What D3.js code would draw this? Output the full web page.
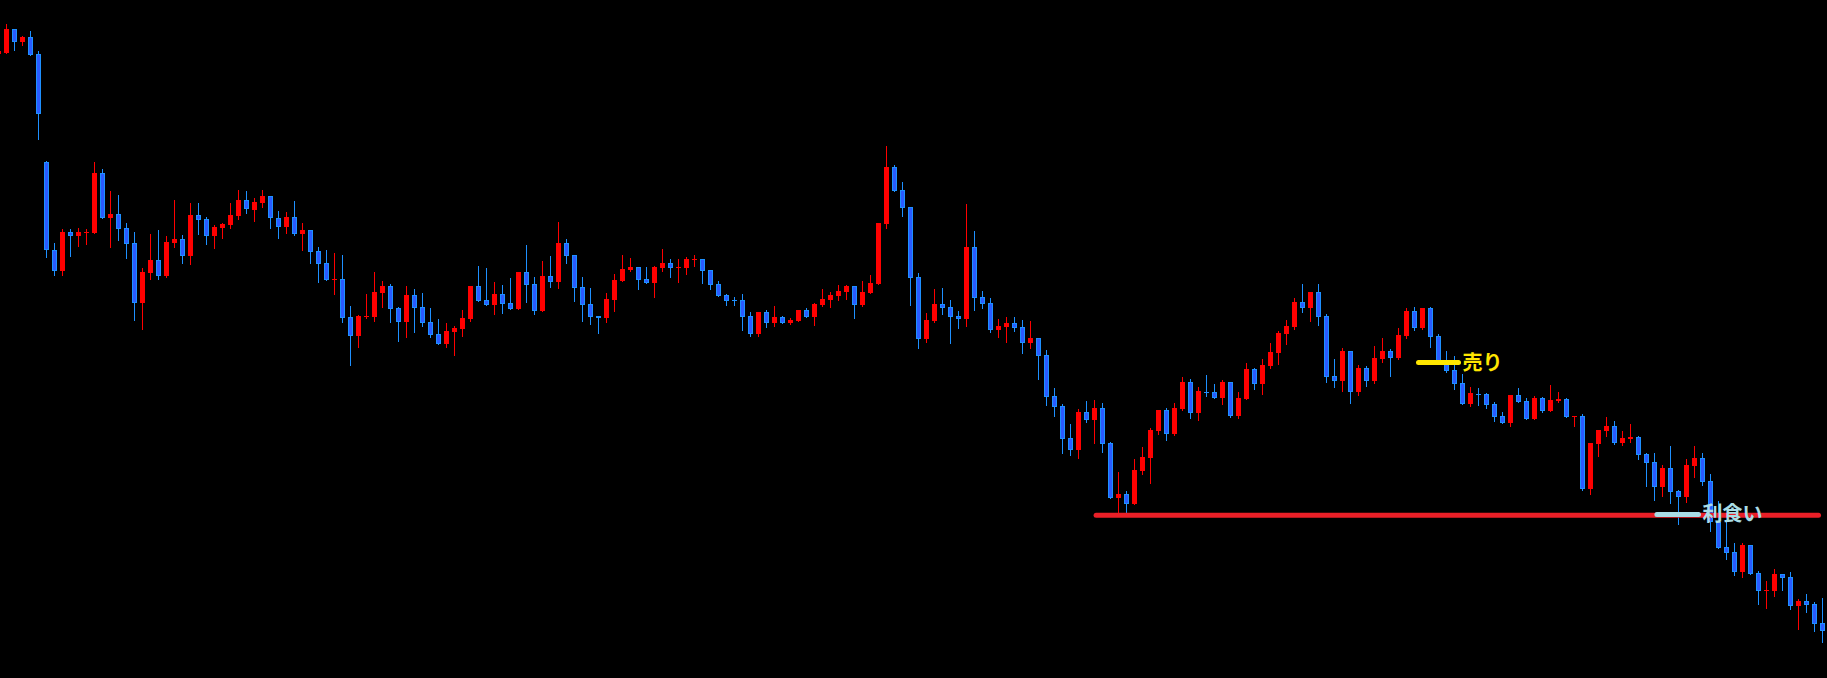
<!DOCTYPE html>
<html>
<head>
<meta charset="utf-8">
<script src="https://cdn.jsdelivr.net/npm/d3@7/dist/d3.min.js"></script>
<style>
  body { margin: 0; background: #000; overflow: hidden; }
</style>
</head>
<body>
<div id="chartContent"></div>
<script>
//Price data (one value per bar, oldest first)
var openP = [
  946.5, 947.3, 971, 958.3, 963, 946, 837.7, 750, 729.3, 767.7,
  764.3, 767.7, 767.3, 827, 782.3, 786, 772, 757, 697.3, 727.3,
  740, 724.3, 757.3, 761, 744.3, 785, 781, 764.3, 772.3, 775.3,
  784.3, 800, 790.3, 797.3, 804, 781.7, 773.3, 783, 766.3, 770,
  749, 737, 721, 721, 683, 664.3, 683.7, 683.3, 707.3, 714,
  692, 678.3, 705, 693, 678, 666, 656.3, 668.3, 671, 681,
  714, 700, 695, 706, 697, 691, 728, 716, 689, 724,
  718, 757, 745, 713, 696, 684, 682.3, 700, 719, 730,
  733, 721, 717, 732, 737, 732.7, 732, 741.3, 740.7, 730,
  716, 705, 700, 700, 684, 666.3, 688, 677.3, 683, 677,
  679, 690, 683.3, 695, 700, 704, 708, 714, 695, 707,
  716, 776.3, 833, 810, 793, 723, 661, 679, 696, 693,
  684, 681.3, 753, 703, 697, 670.3, 673, 677, 673, 657,
  662, 645, 604, 594, 562, 550.3, 588, 580.3, 592, 557,
  502.3, 506, 496.3, 529, 542.3, 569, 590, 566, 591, 618,
  587.3, 608, 608, 602.3, 618, 584.3, 601, 631, 616.3, 634.3,
  647, 666.3, 673, 698, 692.3, 708, 684, 624, 619, 649,
  608.3, 632, 619, 641, 649, 642, 664, 689, 672, 692,
  664, 639, 630, 617, 596.3, 606, 606, 596, 584, 577.3,
  605, 599, 581.3, 602, 589.3, 599, 601, 584, 584, 511.3,
  556.3, 569.3, 574, 557, 561, 563, 546, 538, 513.3, 532,
  509, 503.3, 534.3, 542, 519, 478, 453, 448, 428.3, 455,
  427, 410, 409.3, 426, 423, 394.3, 399, 396, 377
];
var highP = [
  950, 976, 971, 964.3, 969, 949, 839, 757, 771, 771,
  772, 771, 838, 831, 809, 805, 777, 768, 732.3, 766.3,
  770.3, 764.3, 800.3, 765, 797, 797, 783, 775, 777, 797,
  810, 809, 802, 810, 804, 789, 788, 799, 777, 770,
  753, 750, 747, 745, 694.3, 685, 706.3, 728.3, 719.3, 716,
  693, 714.3, 711, 707, 692, 681, 677, 674.3, 690, 714,
  734, 732, 718, 715, 722, 728, 755, 723, 739, 744,
  778, 761, 745, 723, 712, 684, 707, 726, 745, 742,
  733, 733, 734, 751, 741, 741, 743, 744.7, 740.7, 730,
  719, 706, 703, 706, 688, 688, 690, 694, 684, 682,
  690, 692, 697, 711, 708, 715, 715, 714, 719, 725,
  777, 854, 835, 818, 793, 727, 687, 711, 712, 700,
  689, 796, 769, 709, 702, 681, 683, 683, 680, 679,
  662, 650, 612, 596, 576, 591, 599, 600, 597, 558,
  528, 509, 541, 553, 572, 590, 592, 597, 623, 621,
  613, 625, 616, 620, 618, 608, 637, 632, 641, 657,
  669, 680, 702, 716, 708, 716, 686, 641, 652, 649,
  635, 634, 654, 662, 651, 672, 692, 693, 692, 693,
  666, 649, 644, 626, 613, 612, 607, 598, 588, 605,
  612, 602, 604, 603, 615, 608, 602, 584, 586, 557,
  570, 583, 579, 569, 576, 564, 547, 547, 535, 554,
  510, 541, 554, 547, 526, 499, 478, 457, 457, 455,
  429, 419, 431, 426, 428, 401, 406, 398, 402
];
var lowP = [
  946, 947, 950, 955, 945.3, 861.3, 743.3, 725.3, 725.3, 744.3,
  754.3, 756.3, 767.3, 782.3, 753.3, 760.3, 742.3, 680.3, 671, 721.3,
  721.3, 723.3, 753.3, 737.3, 736.3, 766.3, 756.3, 752.3, 762.3, 772.3,
  781.3, 787.3, 779.3, 793.3, 772.3, 762.3, 767.3, 765, 750.3, 737.3,
  718.3, 720.3, 706.3, 678.3, 635.3, 653.3, 682.3, 679.3, 693.3, 678.3,
  659.3, 663.3, 668.3, 674.3, 663.3, 656.3, 653.3, 645, 664.3, 679.3,
  699.3, 695.3, 686.3, 687.3, 691.3, 691, 698.3, 686.3, 689, 713,
  712, 737.3, 699.3, 679.3, 676.3, 667.3, 678.3, 689.3, 719, 729,
  711.3, 717.3, 703.3, 729, 723, 718, 726, 734, 717.3, 711.3,
  704.3, 695.3, 695.3, 670, 664.3, 664.3, 673.3, 674.3, 677.3, 676.3,
  679, 683.3, 675, 694, 693, 700, 701, 682, 694, 707,
  716, 772.3, 809.3, 784, 695.3, 652.3, 658.3, 678, 686.3, 657,
  672, 674.3, 690.3, 692.3, 668.3, 663, 658, 669, 647, 652,
  621, 595.3, 584.3, 547.3, 545.3, 542.3, 578.3, 557.3, 548.3, 502.3,
  488, 488.3, 496.3, 526, 517, 566, 560, 565, 590, 582.3,
  580, 604, 602.3, 596.3, 583.3, 582.3, 601, 611.3, 606.3, 632.3,
  636.3, 656.3, 671, 688, 679, 675, 618.3, 613.3, 609.3, 597.3,
  605.3, 614.3, 617.3, 638.3, 624, 641, 662, 670, 671, 653,
  636, 628, 611, 596.3, 594.3, 595.3, 592.3, 579.3, 577.3, 574.3,
  598.3, 581.3, 581.3, 588.3, 589.3, 598, 583.3, 574.3, 510.3, 506.3,
  544.3, 564.3, 556.3, 555, 558, 541, 514, 500, 504, 497.3,
  476.3, 498.3, 523, 515.3, 469.3, 452.3, 441, 425.3, 423.3, 426.3,
  396.3, 392.3, 404.3, 410.3, 391.3, 371.3, 388.3, 369.3, 358.3
];
var closeP = [
  949, 971, 958.3, 963, 945.3, 886.3, 749.7, 729.3, 768, 764.3,
  768, 767.7, 827, 782.3, 786, 771.3, 756.3, 697.3, 728.3, 740,
  724.3, 758, 761, 744.3, 785, 780.3, 764.3, 773, 776, 785,
  800, 790.7, 798, 804, 781.7, 773.3, 783, 766.3, 770, 748.3,
  736.3, 720.3, 721, 682.3, 664.3, 684.3, 683.7, 708, 714, 691.3,
  678.3, 705, 692.3, 677.3, 665.3, 656.3, 669, 672, 682, 714,
  699.3, 695.3, 706, 696.3, 691.3, 728, 715.3, 689.3, 724, 718.3,
  757, 744.3, 712.3, 695.3, 683.3, 682.3, 701, 720, 731, 733,
  720.3, 717.3, 733, 737, 732, 732.7, 741, 741.3, 729.3, 715.3,
  704.3, 699.3, 699.8, 683.3, 666.3, 688, 677.3, 683, 677.3, 680,
  690, 683.3, 696, 701, 705, 709, 714, 695.3, 708, 717,
  777, 833, 809.3, 792.3, 722.3, 661.3, 680, 696, 692.3, 683.3,
  681.3, 753, 702.3, 696.3, 670.3, 674, 677, 672.3, 657.3, 662,
  644.3, 603.3, 593.3, 561.3, 550.3, 588, 580.3, 592, 556.3, 502.3,
  506, 496.3, 530, 543, 570, 590, 566.3, 592, 618, 587.3,
  609, 607.8, 602.3, 618, 584.3, 602, 631, 616.3, 635, 648,
  667, 674, 698, 692.3, 708, 683.3, 623.3, 619.3, 649, 608.3,
  632, 619.3, 642, 649, 642, 665, 689, 672, 692, 663.3,
  636, 629, 616, 596.3, 607, 605.8, 595.3, 583.3, 577.3, 605,
  598.3, 581.3, 602, 589.3, 600, 601, 583.3, 584, 511.3, 557,
  570, 574, 557.3, 562, 563, 545, 537, 513.3, 532, 508.3,
  503.3, 535, 542, 518.3, 478, 452.3, 447.3, 428.3, 455, 426.3,
  409.3, 410, 426, 422.3, 394.3, 399, 395.3, 376.3, 369.3
];

//Horizontal lines drawn on the chart (price, start bar, end bar, label)
var lineNames = ["stop", "売り", "利食い"];
var linePrices = [484.8, 637.5, 485.6];
var lineFrom = [137.2, 177.5, 207.3];
var lineTo = [227.5, 182.5, 212.5];

var chartWidth = 1827;
var chartHeight = 678;

var bars = openP.map((o, i) => ({
  i: i,
  open: o,
  high: highP[i],
  low: lowP[i],
  close: closeP[i],
  up: closeP[i] >= o
}));

var svg = d3.select("#chartContent")
  .append("svg")
  .attr("width", chartWidth)
  .attr("height", chartHeight)
  .style("display", "block")
  .style("background", "#000");

var xScale = d3.scaleLinear()
  .domain([0, bars.length - 1])
  .range([-1.5, -1.5 + 8 * (bars.length - 1)]);

var yScale = d3.scaleLinear()
  .domain([1000, 322])
  .range([0, chartHeight]);

var chartGroup = svg.append("g");

//Wicks
chartGroup.selectAll(".wick")
  .data(bars)
  .enter()
  .append("line")
  .classed("wick", true)
  .attr("x1", d => xScale(d.i))
  .attr("x2", d => xScale(d.i))
  .attr("y1", d => Math.round(yScale(d.high)))
  .attr("y2", d => Math.round(yScale(d.low)) + 1)
  .attr("stroke", d => d.up ? "#ff0000" : "#1e90ff")
  .attr("stroke-width", 1);

//Bodies
function bodyTop(d) { return Math.round(yScale(Math.max(d.open, d.close))); }
function bodyH(d) {
  return Math.max(1, Math.round(yScale(Math.min(d.open, d.close))) - bodyTop(d));
}
//blue bodies get a lighter outline when tall enough
function outlined(d) { return !d.up && bodyH(d) > 2; }

chartGroup.selectAll(".body")
  .data(bars)
  .enter()
  .append("rect")
  .classed("body", true)
  .attr("x", d => outlined(d) ? xScale(d.i) - 2 : xScale(d.i) - 2.5)
  .attr("width", d => outlined(d) ? 4 : 5)
  .attr("y", d => outlined(d) ? bodyTop(d) + 0.5 : bodyTop(d))
  .attr("height", d => outlined(d) ? bodyH(d) - 1 : bodyH(d))
  .attr("fill", d => {
    if (d.up) return "#ff0000";
    return outlined(d) ? "#2a5bff" : "#1e90ff";
  })
  .attr("stroke", d => outlined(d) ? "#1e90ff" : "none")
  .attr("stroke-width", 1);

//Level lines
var lineColors = ["#ea1f27", "#ffe600", "#a9dde6"];

var levels = lineNames.map((n, k) => ({
  name: n, price: linePrices[k], from: lineFrom[k], to: lineTo[k], k: k
}));

svg.selectAll(".level")
  .data(levels)
  .enter()
  .append("line")
  .classed("level", true)
  .attr("x1", d => xScale(d.from))
  .attr("x2", d => xScale(d.to))
  .attr("y1", d => yScale(d.price))
  .attr("y2", d => yScale(d.price))
  .attr("stroke", d => lineColors[d.k])
  .attr("stroke-width", 5)
  .attr("stroke-linecap", "round");

//Labels (the red line has none)
svg.selectAll(".levelText")
  .data(levels.filter(d => d.k > 0))
  .enter()
  .append("text")
  .classed("levelText", true)
  .attr("x", d => xScale(d.to) + 4)
  .attr("y", d => yScale(d.price) - 1.5)
  .attr("dominant-baseline", "central")
  .attr("font-family", "'Noto Sans CJK JP', 'Noto Sans', sans-serif")
  .attr("font-weight", "bold")
  .attr("font-size", "20px")
  .attr("fill", d => lineColors[d.k])
  .text(d => d.name);
</script>
</body>
</html>
